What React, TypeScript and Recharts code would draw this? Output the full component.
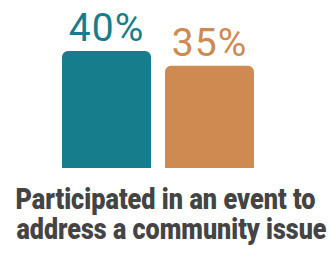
import { BarChart, Bar, XAxis, YAxis, LabelList } from 'recharts';

const categories = ['Participated in an event to address a community issue'];
const firstGroup = [40];
const secondGroup = [35];
const tickLines = ['Participated in an event to', 'address a community issue'];

const data = categories.map((name, i) => ({
  name,
  first: firstGroup[i],
  second: secondGroup[i],
}));

function TwoLineTick({ x, y }: any) {
  const common = {
    textAnchor: 'middle' as const,
    fill: '#444444',
    fontFamily: 'Roboto, sans-serif',
    fontWeight: 900,
    fontSize: 29,
    lengthAdjust: 'spacingAndGlyphs' as const,
  };
  return (
    <g>
      <text x={x + 8} y={y + 33} textLength={300} {...common}>
        {tickLines[0]}
      </text>
      <text x={x + 14} y={y + 63} textLength={310} {...common}>
        {tickLines[1]}
      </text>
    </g>
  );
}

export default function App() {
  return (
    <div style={{ position: 'absolute', left: 0, top: 0, background: 'white' }}>
      <BarChart
        width={330}
        height={257}
        data={data}
        margin={{ top: 51, right: 15, bottom: 0, left: 0 }}
        barGap={14}
      >
        <XAxis
          dataKey="name"
          height={89}
          axisLine={false}
          tickLine={false}
          tick={<TwoLineTick />}
          interval={0}
        />
        <YAxis hide domain={[0, 40]} />
        <Bar dataKey="first" fill="#167d8c" barSize={89} radius={[6, 6, 0, 0]} isAnimationActive={false}>
          <LabelList
            dataKey="first"
            position="top"
            offset={10}
            formatter={(v: any) => `${v}%`}
            fill="#167d8c"
            fontSize={39}
            letterSpacing={1}
            fontFamily="Roboto, sans-serif"
          />
        </Bar>
        <Bar dataKey="second" fill="#ce8a50" barSize={89} radius={[6, 6, 0, 0]} isAnimationActive={false}>
          <LabelList
            dataKey="second"
            position="top"
            offset={10}
            formatter={(v: any) => `${v}%`}
            fill="#ce8a50"
            fontSize={39}
            letterSpacing={1}
            fontFamily="Roboto, sans-serif"
          />
        </Bar>
      </BarChart>
    </div>
  );
}
